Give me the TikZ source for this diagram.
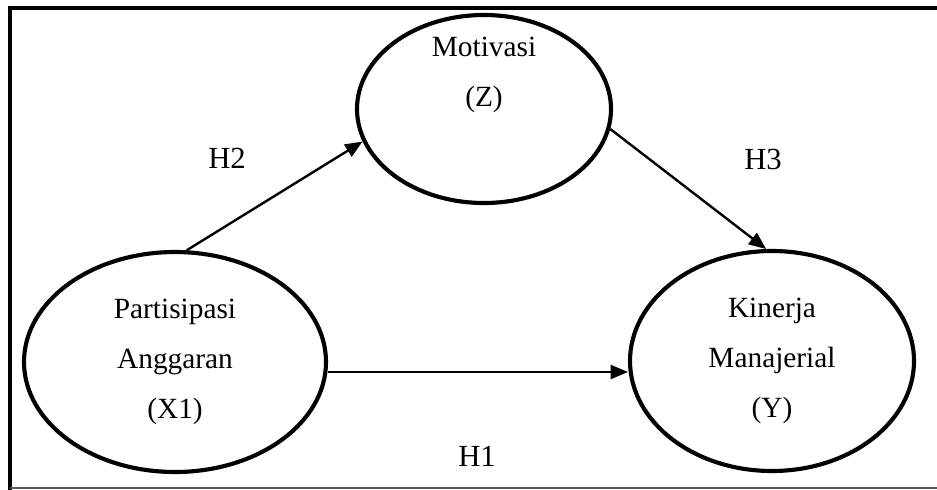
\documentclass[tikz,border=0pt]{standalone}
\usepackage{fontspec}
\setmainfont{Liberation Serif}
\usetikzlibrary{arrows.meta,shapes.geometric}

\begin{document}
\begin{tikzpicture}[x=0.75pt,y=-0.75pt,
  var/.style={ellipse,draw,line width=3.1pt,inner sep=0pt,align=center,font=\fontsize{22}{37.5}\selectfont},
  hyp/.style={font=\fontsize{23}{27}\selectfont},
  link/.style={-{Triangle[length=13pt,width=10.5pt]},line width=1.8pt}]
  \useasboundingbox (0,0) rectangle (937,489);
  % frame, cut off on the right
  \coordinate (tl) at (10,8); \coordinate (tr) at (940,8); \coordinate (bl) at (10,492);
  \coordinate (bl2) at (10,488); \coordinate (br2) at (940,488);
  \draw[line width=3.2pt,line join=miter] (tr) -- (tl) -- (bl);
  \draw[black!65,line width=0.9pt] (bl2) -- (br2);
  % variables
  \node[var,minimum width=226.5pt,minimum height=165pt] (x1) at (175,362) {Partisipasi\\Anggaran\\(X1)};
  \node[var,minimum width=190.5pt,minimum height=141pt] (z) at (484,109) {};
  \node[align=center,font=\fontsize{22}{37.5}\selectfont] (ztext) at (484,75) {Motivasi\\(Z)};
  \node[var,minimum width=213pt,minimum height=165pt] (y) at (772,361) {Kinerja\\Manajerial\\(Y)};
  % paths
  \draw[link] (x1.84) -- (z.195);
  \draw[link] (z.-9) -- (y.93.5);
  \draw[link] ([yshift=-7.5pt]x1.east) -- ([yshift=-7.5pt]x1.east -| y.west);
  \node[hyp] (h2) at (227,158) {H2};
  \node[hyp] (h3) at (763,159) {H3};
  \node[hyp] (h1) at (477,456) {H1};
\end{tikzpicture}
\end{document}
